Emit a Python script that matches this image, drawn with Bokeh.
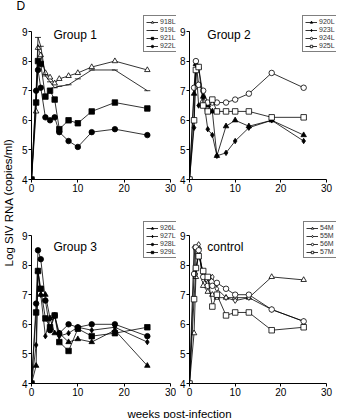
from bokeh.plotting import figure
from bokeh.layouts import row, column
from bokeh.models import Label, Legend, LegendItem, Range1d
from bokeh.embed import file_html
from bokeh.resources import INLINE

# sampling times (weeks post-infection)
weeks = [0, 1, 1.4, 2, 3, 4, 5, 6, 8, 10, 13, 18, 25]

# Group 1
g1_names = ["918L", "919L", "921L", "922L"]
v918L = [4, 6.3, 8.45, 8.2, 7.6, 7.45, 7.25, 7.4, 7.5, 7.6, 7.8, 8.0, 7.7]
v919L = [4, 7.0, 8.8, 8.5, 7.5, 7.3, 7.1, 7.15, 7.2, 7.4, 7.7, 7.7, 7.0]
v921L = [4, 6.6, 8.0, 7.9, 6.8, 7.0, 6.7, 5.7, 6.0, 5.9, 6.3, 6.6, 6.4]
v922L = [4, 7.0, 7.7, 7.1, 6.1, 6.0, 6.1, 5.6, 5.3, 5.1, 5.6, 5.7, 5.5]

# Group 2
g2_names = ["920L", "923L", "924L", "925L"]
v920L = [4, 6.9, 7.9, 7.8, 6.8, 6.5, 6.3, 4.8, 5.8, 6.0, 5.8, 6.0, 5.5]
v923L = [4, 5.75, 7.9, 6.5, 6.8, 5.7, 5.5, 4.8, 4.9, 5.3, 5.75, 6.0, 5.3]
v924L = [4, 7.1, 8.0, 7.2, 7.0, 6.6, 6.6, 6.6, 6.6, 6.7, 6.9, 7.6, 7.1]
v925L = [4, 6.0, 7.7, 7.8, 6.5, 6.3, 6.7, 6.3, 6.3, 6.3, 6.3, 6.1, 6.1]

# Group 3
g3_names = ["926L", "927L", "928L", "929L"]
v926L = [4, 4.6, 7.8, 7.0, 7.0, 6.2, 5.7, 5.7, 5.4, 5.5, 5.4, 5.8, 4.6]
v927L = [4, 5.3, 7.8, 7.0, 5.6, 6.2, 6.3, 5.6, 5.7, 5.9, 5.8, 5.9, 5.4]
v928L = [4, 6.7, 8.5, 8.2, 6.8, 5.8, 6.3, 5.7, 6.0, 5.9, 6.0, 6.0, 5.6]
v929L = [4, 6.4, 7.8, 7.2, 6.2, 5.9, 6.3, 5.4, 5.1, 5.85, 5.6, 5.7, 5.9]

# control
g4_names = ["54M", "55M", "56M", "57M"]
v54M = [4, 5.7, 7.6, 8.6, 7.3, 7.1, 7.0, 6.9, 6.9, 6.9, 6.9, 7.6, 7.5]
v55M = [4, 8.6, 7.7, 8.7, 7.5, 7.4, 7.6, 7.2, 6.9, 6.8, 6.9, 6.5, 6.1]
v56M = [4, 7.7, 8.6, 8.5, 7.6, 7.3, 7.3, 7.4, 7.2, 7.0, 7.0, 6.5, 6.1]
v57M = [4, 6.85, 7.9, 8.3, 7.8, 7.6, 6.6, 7.0, 6.3, 6.4, 6.4, 5.8, 5.9]

y_ticks = [4, 5, 6, 7, 8, 9]
x_ticks = [0, 10, 20, 30]

FONT = "Liberation Sans"

# (marker, filled)
g1_marks = [("triangle", False), ("dash", True), ("square", True), ("circle", True)]
g2_marks = [("triangle", True), ("diamond", True), ("circle", False), ("square", False)]
g3_marks = [("triangle", True), ("diamond", True), ("circle", True), ("square", True)]
g4_marks = [("triangle", False), ("diamond", False), ("circle", False), ("square", False)]

FRAME_H = 165          # 4..9 spans 148 px; the rest is headroom for title/legend
PX_PER_Y = 148 / 5.0


def panel(title, names, series, marks, left, px30, frame_w, right, top, bottom,
          legend_loc, title_xy):
    p = figure(frame_width=frame_w, frame_height=FRAME_H,
               min_border_left=left, min_border_right=right,
               min_border_top=top, min_border_bottom=bottom,
               x_range=Range1d(0, 30 * frame_w / px30),
               y_range=Range1d(4, 4 + FRAME_H / PX_PER_Y),
               output_backend="svg", toolbar_location=None)
    p.outline_line_color = None
    p.xgrid.visible = False
    p.ygrid.visible = False
    p.xaxis.bounds = (0, 30)
    p.yaxis.bounds = (4, 9)
    for ax in (p.xaxis[0], p.yaxis[0]):
        ax.axis_line_color = "black"
        ax.axis_line_width = 1
        ax.major_tick_line_color = "black"
        ax.major_tick_out = 3
        ax.major_tick_in = 0
        ax.minor_tick_line_color = None
        ax.major_label_text_font = FONT
        ax.major_label_text_font_size = "10px"
        ax.major_label_text_color = "black"
        ax.major_label_standoff = 1
    p.xaxis.ticker = x_ticks
    p.yaxis.ticker = y_ticks

    items = []
    for name, vals, (mk, filled) in zip(names, series, marks):
        ln = p.line(weeks, vals, line_color="black", line_width=0.8)
        sc = p.scatter(weeks, vals, marker=mk, size=5.5 if mk != "dash" else 6,
                       line_color="black", line_width=0.8,
                       fill_color="black" if filled else "white")
        items.append(LegendItem(label=name, renderers=[ln, sc]))

    leg = Legend(items=items, location=legend_loc, margin=0, padding=2,
                 spacing=1, glyph_width=12, glyph_height=6, label_height=6,
                 label_standoff=2, label_text_font=FONT,
                 label_text_font_size="7px", label_text_color="#333333",
                 border_line_color="black", border_line_width=0.7,
                 background_fill_alpha=1)
    p.add_layout(leg, "center")

    p.add_layout(Label(x=title_xy[0], y=title_xy[1], text=title,
                       text_font=FONT, text_font_size="12px",
                       text_baseline="middle", text_color="black"))
    return p


p1 = panel("Group 1", g1_names, [v918L, v919L, v921L, v922L], g1_marks,
           15, 139, 145, 0, 0, 18, (112, 127), (4.75, 8.88))
p2 = panel("Group 2", g2_names, [v920L, v923L, v924L, v925L], g2_marks,
           13, 137, 147, 2, 0, 18, (113, 127), (3.9, 8.88))
p3 = panel("Group 3", g3_names, [v926L, v927L, v928L, v929L], g3_marks,
           15, 139, 145, 0, 21, 17, (112, 125), (4.75, 8.6))
p4 = panel("control", g4_names, [v54M, v55M, v56M, v57M], g4_marks,
           13, 137, 147, 2, 21, 17, (114, 125), (3.9, 8.6))


def blank(w, h):
    f = figure(width=w, height=h, x_range=Range1d(0, w), y_range=Range1d(0, h),
               min_border=0, output_backend="svg", toolbar_location=None)
    f.axis.visible = False
    f.grid.visible = False
    f.outline_line_color = None
    return f


# panel letter strip
top = blank(322, 14)
top.add_layout(Label(x=0, y=2, text="D", text_font=FONT,
                     text_font_size="12px", text_color="black"))

ylab = blank(16, 418)
ylab.add_layout(Label(x=8, y=418 - 202, text="Log SIV RNA (copies/ml)",
                      angle=1.5708, text_align="center", text_baseline="middle",
                      text_font=FONT, text_font_size="11.5px", text_color="black"))

xlab = blank(322, 18)
xlab.add_layout(Label(x=163, y=5, text="weeks post-infection",
                      text_align="center", text_baseline="middle",
                      text_font=FONT, text_font_size="11.5px", text_color="black"))

layout = row(ylab, column(top, row(p1, p2), row(p3, p4), xlab))

open("out.html", "w").write(file_html(layout, INLINE))
